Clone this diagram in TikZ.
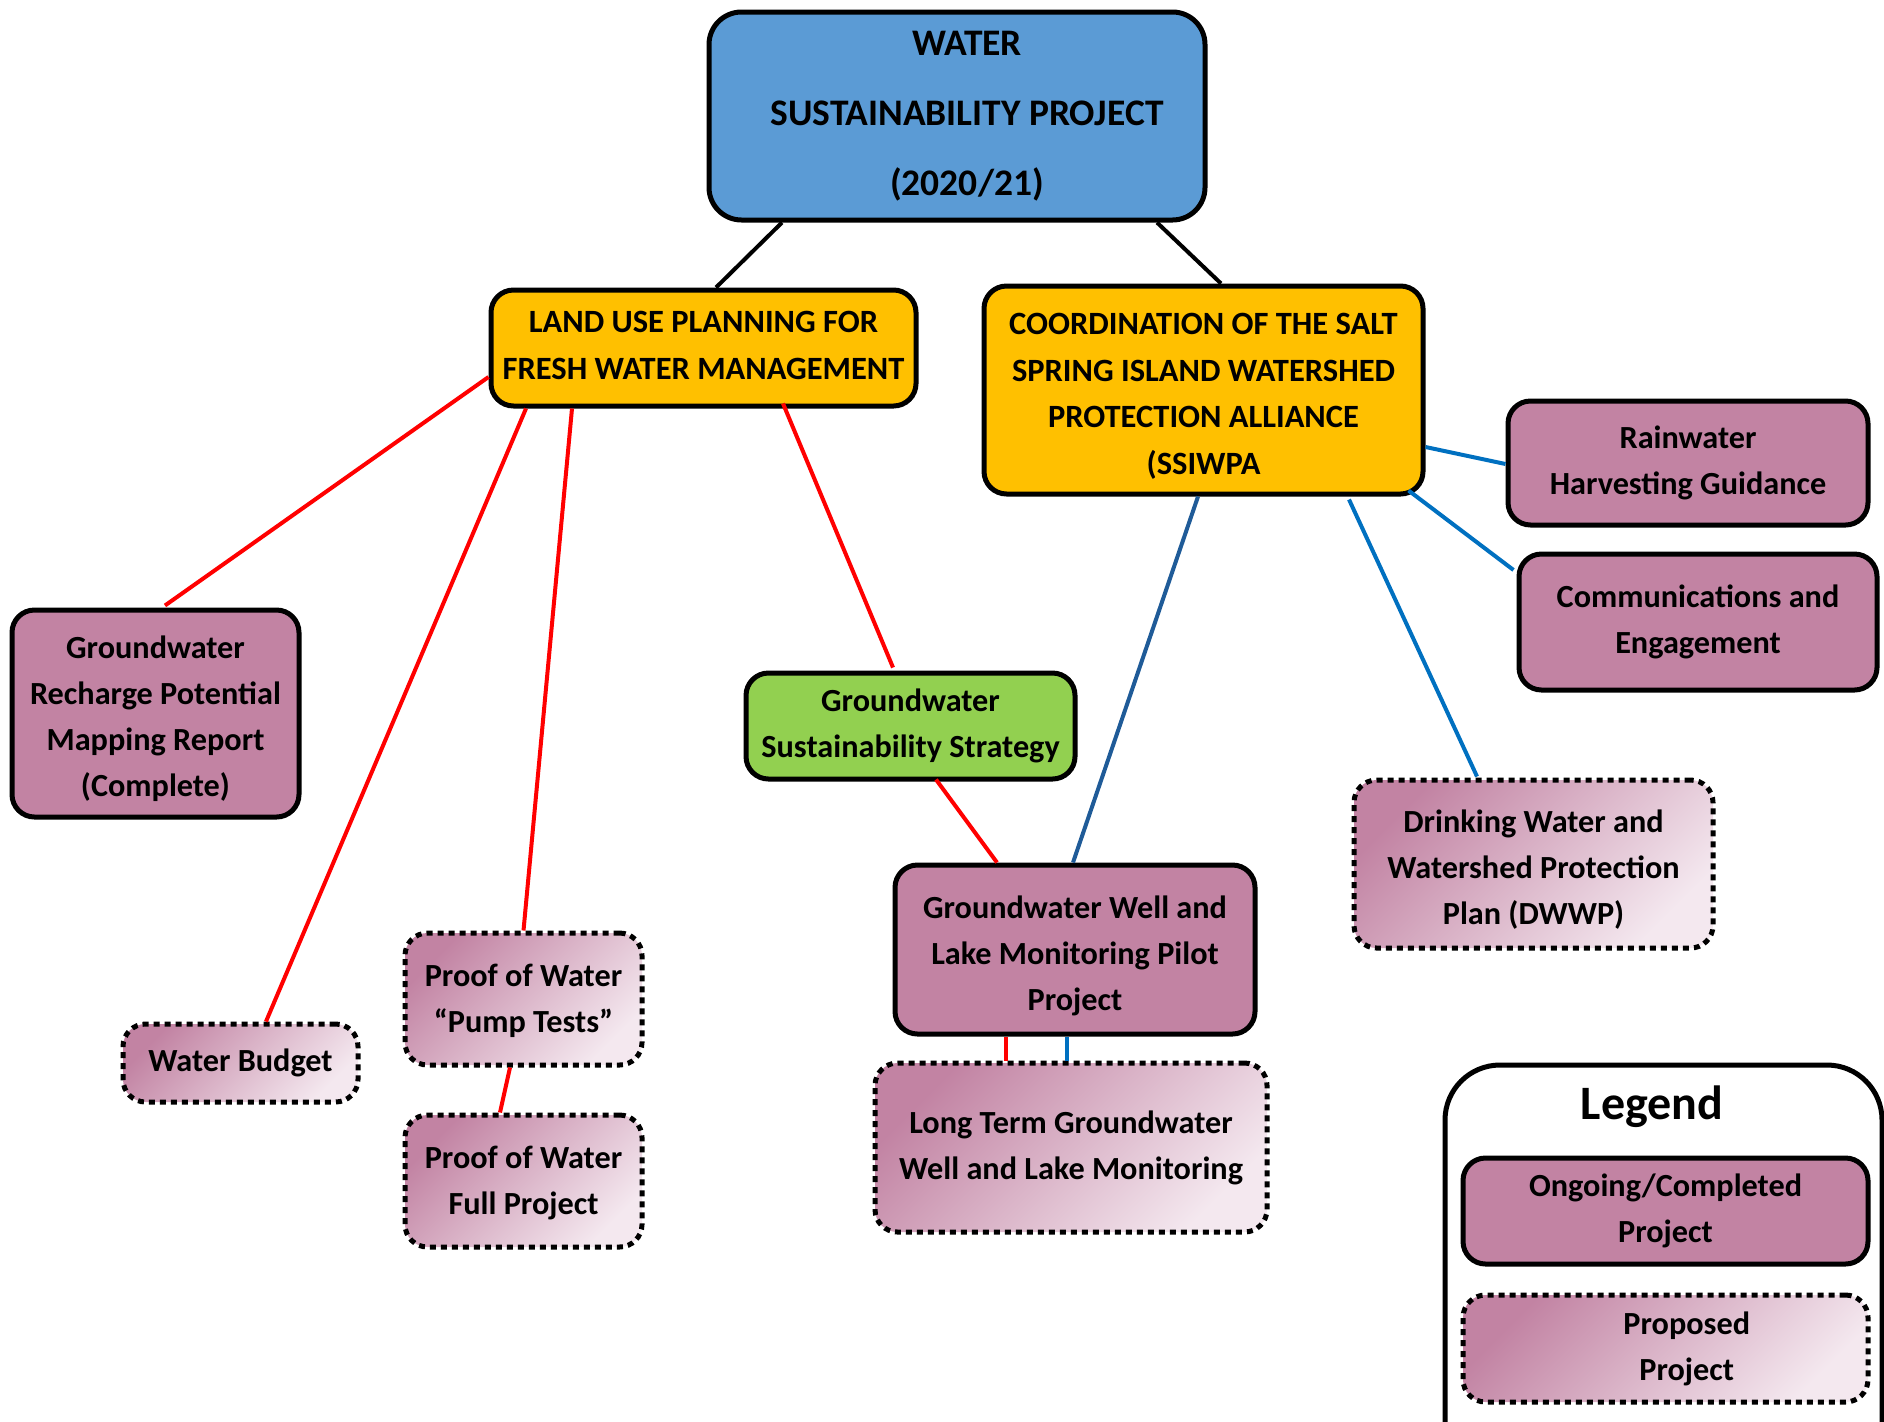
\documentclass[tikz,border=0pt]{standalone}
\usepackage{fontspec}
\setmainfont{Carlito}
\usetikzlibrary{calc}

\definecolor{topblue}{HTML}{5B9BD5}
\definecolor{amber}{HTML}{FFC000}
\definecolor{leaf}{HTML}{92D050}
\definecolor{mauve}{HTML}{C283A3}
\definecolor{blush}{HTML}{F4E8EF}
\definecolor{linkred}{HTML}{FF0000}
\definecolor{linkblue}{HTML}{0070C0}
\definecolor{linknavy}{HTML}{1F5B98}

% invisible struts that nudge a text block down (\tallfirst) or up (\deeplast)
\newcommand{\tallfirst}[1]{\rule{0pt}{#1}}
\newcommand{\deeplast}[1]{\rule[-#1]{0pt}{#1}}

\tikzset{
  box/.style={draw=black, line width=2pt, rounded corners=9pt, align=center,
    inner sep=0pt, font=\bfseries\fontsize{12.9}{18.4}\selectfont},
  mainbox/.style={box, fill=topblue, rounded corners=13pt,
    font=\bfseries\fontsize{15}{28}\selectfont},
  headbox/.style={box, fill=amber, font=\bfseries\fontsize{13}{18.6}\selectfont},
  stratbox/.style={box, fill=leaf},
  donebox/.style={box, fill=mauve},
  planbox/.style={box, top color=mauve, bottom color=blush, shading angle=45,
    dash pattern=on 2.4pt off 2pt},
  redlink/.style={draw=linkred, line width=1.6pt},
  bluelink/.style={draw=linkblue, line width=1.6pt},
  navylink/.style={draw=linknavy, line width=1.6pt},
  blacklink/.style={draw=black, line width=1.6pt},
}

\begin{document}
\begin{tikzpicture}[x=0.4pt, y=-0.4pt]
\useasboundingbox (0,0) rectangle (1884,1421);
\begin{scope}
\clip (0,0) rectangle (1884,1421);

% ---- boxes ----
\node[mainbox, minimum width=496*0.4pt, minimum height=208*0.4pt] (top) at (957,116)
  {\hspace*{8pt}WATER\\ \hspace*{8pt}SUSTAINABILITY PROJECT\\ \hspace*{8pt}(2020/21)};

\node[headbox, minimum width=425*0.4pt, minimum height=116*0.4pt] (land) at (703.5,348)
  {LAND USE PLANNING FOR\\ FRESH WATER MANAGEMENT\deeplast{2pt}};

\node[headbox, minimum width=439*0.4pt, minimum height=208*0.4pt] (coord) at (1203.5,390)
  {\tallfirst{13.4pt}COORDINATION OF THE SALT\\ SPRING ISLAND WATERSHED\\ PROTECTION ALLIANCE\\ (SSIWPA};

\node[donebox, minimum width=360*0.4pt, minimum height=124*0.4pt] (rain) at (1688,463)
  {Rainwater\\ Harvesting Guidance};

\node[donebox, minimum width=358*0.4pt, minimum height=136*0.4pt] (comm) at (1698,622)
  {Communications and\\ Engagement};

\node[donebox, minimum width=287*0.4pt, minimum height=207*0.4pt] (recharge) at (155.5,713.5)
  {\tallfirst{13.5pt}Groundwater\\ Recharge Potential\\ Mapping Report\\ (Complete)};

\node[stratbox, minimum width=329*0.4pt, minimum height=106*0.4pt] (strat) at (910.5,726)
  {Groundwater\\ Sustainability Strategy};

\node[donebox, minimum width=360*0.4pt, minimum height=169*0.4pt] (pilot) at (1075,949.5)
  {\tallfirst{13.8pt}Groundwater Well and\\ Lake Monitoring Pilot\\ Project};

\node[planbox, minimum width=359*0.4pt, minimum height=168*0.4pt] (drink) at (1533.5,864)
  {\tallfirst{13.5pt}Drinking Water and\\ Watershed Protection\\ Plan (DWWP)};

\node[planbox, minimum width=235*0.4pt, minimum height=78*0.4pt] (budget) at (240.5,1063)
  {Water Budget};

\node[planbox, minimum width=237*0.4pt, minimum height=132*0.4pt] (pump) at (523.5,999)
  {\tallfirst{10.8pt}Proof of Water\\ “Pump Tests”};

\node[planbox, minimum width=237*0.4pt, minimum height=132*0.4pt] (full) at (523.5,1181)
  {\tallfirst{10.8pt}Proof of Water\\ Full Project};

\node[planbox, minimum width=392*0.4pt, minimum height=169*0.4pt] (longterm) at (1071,1147.5)
  {Long Term Groundwater\\ Well and Lake Monitoring};

% ---- legend ----
\node[draw=black, line width=2pt, rounded corners=22pt, minimum width=437*0.4pt,
  minimum height=420*0.4pt, inner sep=0pt] (legend) at (1663.5,1275) {};
\node[font=\bfseries\fontsize{19.2}{22}\selectfont, inner sep=0pt] (legendtitle) at (1652,1107) {Legend};
\node[donebox, minimum width=405*0.4pt, minimum height=106*0.4pt] (keydone) at (1665.5,1211)
  {Ongoing/Completed\\ Project};
\node[planbox, minimum width=405*0.4pt, minimum height=107*0.4pt] (keyplan) at (1665.5,1348.5)
  {\hspace*{17pt}Proposed\\ \hspace*{17pt}Project};

% ---- connectors ----
\draw[blacklink] ($(top.south)+(-175,0)$) -- ($(land.north)+(12.5,0)$);
\draw[blacklink] ($(top.south)+(200,0)$) -- ($(coord.north)+(17.5,0)$);

\draw[redlink] ($(land.west)+(0,29)$) -- ($(recharge.north)+(9.5,-2)$);
\draw[redlink] ($(land.south)+(-177.5,0)$) -- ($(budget.north)+(25.5,0)$);
\draw[redlink] ($(land.south)+(-131.5,0)$) -- ($(pump.north)+(0,0)$);
\draw[redlink] ($(pump.south)+(-13.5,0)$) -- ($(full.north)+(-23.5,0)$);
\draw[redlink] ($(land.south)+(79.5,-5)$) -- ($(strat.north)+(-17.5,-3)$);
\draw[redlink] ($(strat.south)+(25.5,-2)$) -- ($(pilot.north)+(-78,0)$);
\draw[redlink] ($(pilot.south)+(-69,0)$) -- ($(longterm.north)+(-65,0)$);

\draw[navylink] ($(coord.south)+(-5.5,0)$) -- ($(pilot.north)+(-2,0)$);
\draw[bluelink] ($(coord.east)+(0,57)$) -- ($(rain.west)+(0,1)$);
\draw[bluelink] ($(coord.south east)+(-17,-6)$) -- ($(comm.west)+(-3,-52)$);
\draw[bluelink] ($(coord.south)+(145.5,3)$) -- ($(drink.north)+(-56.5,-1)$);
\draw[bluelink] ($(pilot.south)+(-8,0)$) -- ($(longterm.north)+(-4,0)$);
\end{scope}
\end{tikzpicture}
\end{document}
